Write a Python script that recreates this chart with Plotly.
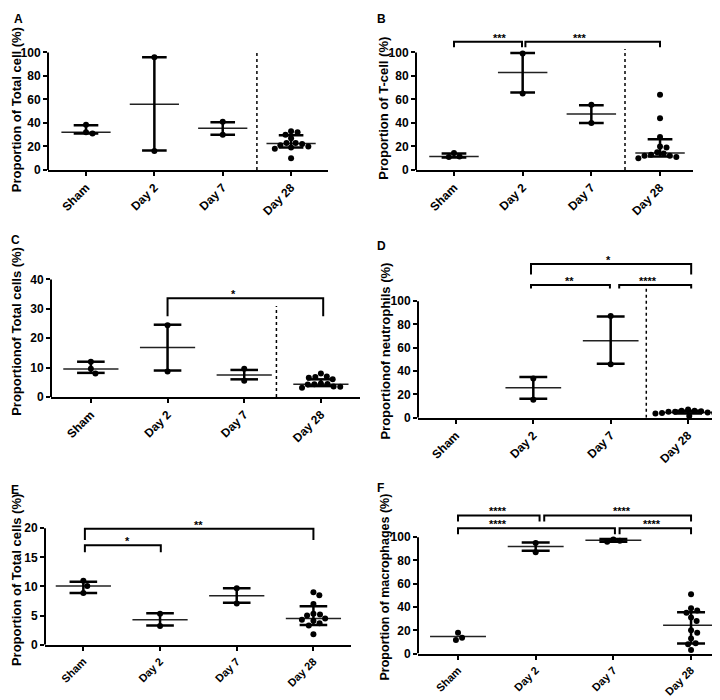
import math
import plotly.graph_objects as go

W, H = 720, 700
FONT = "Liberation Sans, Arial, sans-serif"

CATEGORIES = ["Sham", "Day 2", "Day 7", "Day 28"]

# ---------------- data ----------------
A_values = [[38.5, 32, 31], [96, 16], [41, 30],
            [33, 32, 30, 27, 23, 23, 22, 21, 20, 19, 18, 10]]
A_center = [32, 56, 35.5, 22.5]
A_low = [31, 16.5, 30, 19]
A_high = [38, 96, 40.5, 29.5]
A_brackets = []

B_values = [[14.5, 11.5, 11], [99, 65], [55.5, 40],
            [64, 44, 28, 20, 19, 15, 14, 13, 12, 12, 11, 10]]
B_center = [11.5, 83, 47.5, 14.5]
B_low = [10.5, 66, 40, 11.5]
B_high = [14, 99.5, 55, 26]
B_brackets = [(0, 0.99, 109, 104.5, "***", 0.67),
              (1.04, 3.0, 109, 104.5, "***", 1.83)]

C_values = [[12, 9.6, 8], [24.4, 8.7], [9.6, 5.5],
            [8, 7, 6.8, 6.5, 6, 4.6, 4.4, 4.3, 4.2, 3.6, 3.5, 3.1]]
C_center = [9.5, 16.8, 7.5, 4.3]
C_low = [8.2, 9, 6, 3.7]
C_high = [12, 24.6, 9.2, 6]
C_brackets = [(1.0, 3.03, 33.6, 27.5, "*", 1.86)]

D_values = [[], [33.6, 15.3], [87.3, 45.8],
            [7, 6, 6, 5.5, 5, 5, 4.5, 4, 4, 3.5, 3, 1.5]]
D_center = [None, 25.7, 66, 4.5]
D_low = [None, 16.2, 46.3, 3.5]
D_high = [None, 35, 86.8, 6]
D_brackets = [(0.97, 3.04, 132, 123, "*", 1.97),
              (0.97, 1.99, 114, 111, "**", 1.47),
              (2.11, 3.04, 114, 111, "****", 2.48)]

E_values = [[11, 10.1, 8.9], [5.3, 3.2], [9.7, 7.1],
            [9, 8.5, 7, 5.3, 5.2, 5, 4.5, 4.3, 4.1, 3.7, 3.3, 1.8]]
E_center = [10.1, 4.3, 8.4, 4.5]
E_low = [8.9, 3.3, 7.2, 3.4]
E_high = [10.8, 5.4, 9.7, 6.6]
E_brackets = [(0.02, 3.0, 19.9, 18, "**", 1.5),
              (0.02, 1.01, 17.1, 15.9, "*", 0.57)]

F_values = [[18, 13.6, 11.6], [94.9, 87], [98, 97, 96],
            [51, 39, 37, 35, 31, 28, 20, 18, 13, 9, 8, 3]]
F_center = [14.8, 92, 97.3, 24.3]
F_low = [None, 88.4, 96, 8.7]
F_high = [None, 95.5, 98.5, 35.6]
F_brackets = [(0, 1.05, 118.6, 113.5, "****", 0.51),
              (1.11, 3.0, 118.6, 113.5, "****", 2.11),
              (0, 2.02, 107.6, 102.5, "****", 0.51),
              (2.08, 3.0, 107.6, 102.5, "****", 2.5)]

# ---------------- layout of the panels (pixels) ----------------
panels = [
    dict(letter="A", title="Proportion of Total cell (%)", values=A_values,
         center=A_center, low=A_low, high=A_high, brackets=A_brackets,
         xpx=(40, 320), xr=(-0.556, 3.54), y0px=162, ytop=100, ytoppx=43,
         yrtop=106, ticks=[0, 20, 40, 60, 80, 100], divider=(2.5, 100),
         titlepos=(8.5, 101), tfs=13, letterpos=(4, 0), xfs=12),
    dict(letter="B", title="Proportion of T-cell (%)", values=B_values,
         center=B_center, low=B_low, high=B_high, brackets=B_brackets,
         xpx=(408, 685), xr=(-0.553, 3.48), y0px=162, ytop=100, ytoppx=43,
         yrtop=118, ticks=[0, 20, 40, 60, 80, 100], divider=(2.49, 103),
         titlepos=(376, 100), tfs=13, letterpos=(367, 0), xfs=12),
    dict(letter="C", title="Proportionof Total cells (%)", values=C_values,
         center=C_center, low=C_low, high=C_high, brackets=C_brackets,
         xpx=(43, 352), xr=(-0.52, 3.51), y0px=392, ytop=40, ytoppx=273,
         yrtop=41.5, ticks=[0, 10, 20, 30, 40], divider=(2.42, 31),
         titlepos=(9, 326), tfs=13, letterpos=(1, 224), xfs=12),
    dict(letter="D", title="Proportionof neutrophils (%)", values=D_values,
         center=D_center, low=D_low, high=D_high, brackets=D_brackets,
         xpx=(410, 718), xr=(-0.49, 3.49), y0px=413, ytop=100, ytoppx=295,
         yrtop=145, ticks=[0, 20, 40, 60, 80, 100], divider=(2.46, 113),
         titlepos=(378, 346), tfs=13, letterpos=(367, 230), xfs=12),
    dict(letter="E", title="Proportion of Total cells (%)", values=E_values,
         center=E_center, low=E_low, high=E_high, brackets=E_brackets,
         xpx=(37, 343), xr=(-0.50, 3.49), y0px=643, ytop=20, ytoppx=525,
         yrtop=23, ticks=[0, 5, 10, 15, 20], divider=None,
         titlepos=(8.5, 578), tfs=13, letterpos=(1, 477), xfs=11),
    dict(letter="F", title="Proportion of macrophages (%)", values=F_values,
         center=F_center, low=F_low, high=F_high, brackets=F_brackets,
         xpx=(410, 718), xr=(-0.515, 3.45), y0px=652, ytop=100, ytoppx=534,
         yrtop=128, ticks=[0, 20, 40, 60, 80, 100], divider=None,
         titlepos=(377, 585), tfs=12.5, letterpos=(367, 475), xfs=11),
]

MED_HALF = 0.36
CAP_HALF = 0.18
MARKER = 6
MIN_DIST = 6.6  # px between dot centres in the swarm


def swarm_offsets(vals, ppu):
    """Horizontal pixel offsets so that dots do not overlap (beeswarm)."""
    placed = []
    offs = []
    for v in vals:
        y = v * ppu
        cands = [0.0]
        near = []
        for (px, py) in placed:
            dy = abs(py - y)
            if dy < MIN_DIST:
                dx = math.sqrt(MIN_DIST ** 2 - dy ** 2)
                near.append((px - dx, px + dx))
                cands += [px - dx, px + dx]
        ok = [c for c in cands
              if all(not (a + 1e-6 < c < b - 1e-6) for a, b in near)]
        best = min(ok, key=lambda c: (abs(c), -c))
        placed.append((best, y))
        offs.append(best)
    return offs


fig = go.Figure()
layout = dict(width=W, height=H, margin=dict(l=0, r=0, t=0, b=0),
              plot_bgcolor="white", paper_bgcolor="white", showlegend=False,
              shapes=[], annotations=[])

ytickfont = dict(family=FONT, size=12, color="black", weight="bold")

for k, P in enumerate(panels, start=1):
    sfx = "" if k == 1 else str(k)
    xa, ya = "x" + sfx, "y" + sfx

    x0px, x1px = P["xpx"]
    ppu = (P["y0px"] - P["ytoppx"]) / P["ytop"]
    top_px = P["y0px"] - P["yrtop"] * ppu
    spacing = (x1px - x0px) / (P["xr"][1] - P["xr"][0])

    # summary lines (center, whiskers)
    mx, my, wx, wy = [], [], [], []
    for i in range(len(CATEGORIES)):
        c, lo, hi = P["center"][i], P["low"][i], P["high"][i]
        if c is not None:
            mx += [i - MED_HALF, i + MED_HALF, None]
            my += [c, c, None]
        if lo is not None and hi is not None:
            wx += [i - CAP_HALF, i + CAP_HALF, None, i, i, None,
                   i - CAP_HALF, i + CAP_HALF, None]
            wy += [hi, hi, None, hi, lo, None, lo, lo, None]
    fig.add_trace(go.Scatter(x=mx, y=my, mode="lines", xaxis=xa, yaxis=ya,
                             line=dict(color="#222222", width=1.5),
                             hoverinfo="skip"))
    fig.add_trace(go.Scatter(x=wx, y=wy, mode="lines", xaxis=xa, yaxis=ya,
                             line=dict(color="black", width=2.5),
                             hoverinfo="skip"))

    # individual points, swarmed sideways
    px_, py_ = [], []
    for i, vals in enumerate(P["values"]):
        offs = swarm_offsets(vals, ppu)
        px_ += [i + o / spacing for o in offs]
        py_ += list(vals)
    fig.add_trace(go.Scatter(x=px_, y=py_, mode="markers", xaxis=xa, yaxis=ya,
                             marker=dict(color="black", size=MARKER),
                             cliponaxis=False, hoverinfo="y"))

    # significance brackets
    for (x1, x2, yl, yt, lab, lx) in P["brackets"]:
        fig.add_trace(go.Scatter(x=[x1, x1, x2, x2], y=[yt, yl, yl, yt],
                                 mode="lines", xaxis=xa, yaxis=ya,
                                 line=dict(color="black", width=2),
                                 hoverinfo="skip"))
        layout["annotations"].append(dict(
            x=lx, y=yl, xref=xa, yref=ya, text=lab, showarrow=False,
            xanchor="center", yanchor="bottom", yshift=-4,
            font=dict(family=FONT, size=11, color="black", weight="bold")))

    layout["xaxis" + sfx] = dict(
        domain=[x0px / W, x1px / W], range=list(P["xr"]), anchor=ya,
        tickmode="array", tickvals=list(range(len(CATEGORIES))),
        ticktext=CATEGORIES, tickangle=-45, ticks="outside", ticklen=4,
        tickwidth=2, tickcolor="black", showline=True, linewidth=2,
        linecolor="black", showgrid=False, zeroline=False,
        tickfont=dict(family=FONT, size=P["xfs"], color="black",
                      weight="bold"),
        fixedrange=True)
    layout["yaxis" + sfx] = dict(
        domain=[1 - P["y0px"] / H, 1 - top_px / H], range=[0, P["yrtop"]],
        anchor=xa, tickmode="array", tickvals=P["ticks"], ticks="outside",
        ticklen=4, tickwidth=2, tickcolor="black", showline=False,
        showgrid=False, zeroline=False, tickfont=ytickfont, fixedrange=True)

    # y axis line only up to the top tick
    layout["shapes"].append(dict(type="line", xref="paper", yref=ya,
                                 x0=x0px / W, x1=x0px / W, y0=0, y1=P["ytop"],
                                 line=dict(color="black", width=2)))
    if P["divider"] is not None:
        dx, dtop = P["divider"]
        layout["shapes"].append(dict(type="line", xref=xa, yref=ya,
                                     x0=dx, x1=dx, y0=0, y1=dtop,
                                     line=dict(color="black", width=1.5,
                                               dash="dot")))

    tx, ty = P["titlepos"]
    layout["annotations"].append(dict(
        x=tx / W, y=1 - ty / H, xref="paper", yref="paper", text=P["title"],
        textangle=-90, showarrow=False, xanchor="center", yanchor="middle",
        font=dict(family=FONT, size=P["tfs"], color="black", weight="bold")))
    lx, ly = P["letterpos"]
    layout["annotations"].append(dict(
        x=lx / W, y=1 - ly / H, xref="paper", yref="paper", text=P["letter"],
        showarrow=False, xanchor="left", yanchor="top",
        font=dict(family=FONT, size=12, color="black", weight="bold")))

fig.update_layout(**layout)
fig.write_html("out.html")
